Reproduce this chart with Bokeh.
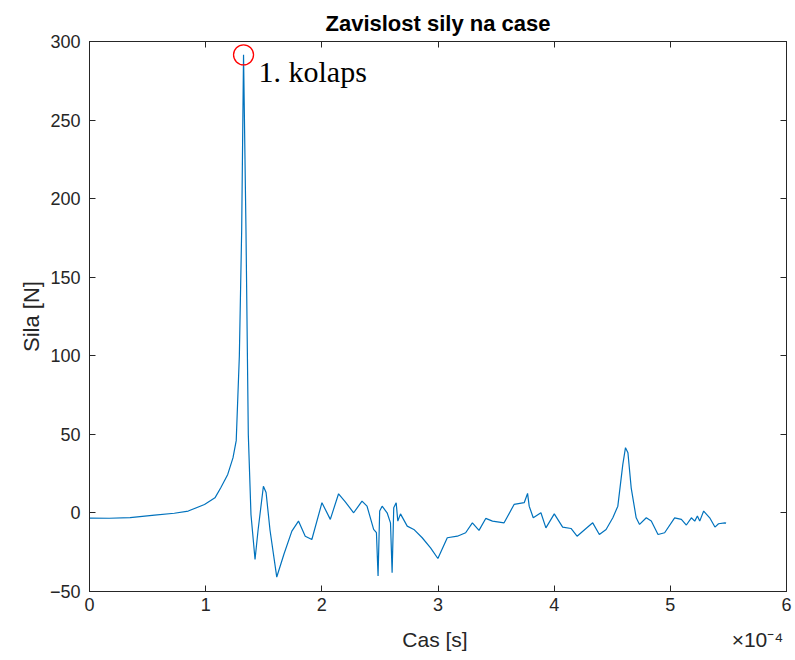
from bokeh.plotting import figure
from bokeh.models import Range1d, FixedTicker, LinearAxis, Label, ColumnDataSource
from bokeh.embed import file_html
from bokeh.resources import INLINE

# time in units of 1e-4 s
time_e4 = [0.000, 0.17, 0.35, 0.56, 0.73, 0.85, 0.99, 1.08, 1.13, 1.19, 1.235, 1.263,
           1.29, 1.31, 1.326, 1.347, 1.367, 1.39, 1.425, 1.451, 1.497, 1.52, 1.554,
           1.612, 1.675, 1.742, 1.799, 1.857, 1.914, 2.001, 2.073, 2.144, 2.202, 2.274,
           2.346, 2.389, 2.446, 2.470, 2.484, 2.498, 2.519, 2.562, 2.591, 2.605, 2.619,
           2.640, 2.654, 2.677, 2.735, 2.792, 2.864, 2.936, 2.999, 3.080, 3.167, 3.238,
           3.296, 3.353, 3.411, 3.469, 3.569, 3.655, 3.742, 3.771, 3.785, 3.820, 3.886,
           3.929, 4.001, 4.073, 4.145, 4.197, 4.289, 4.332, 4.389, 4.447, 4.505, 4.548,
           4.591, 4.614, 4.635, 4.663, 4.706, 4.735, 4.793, 4.836, 4.894, 4.951, 5.037,
           5.095, 5.138, 5.181, 5.210, 5.233, 5.253, 5.287, 5.339, 5.384, 5.415, 5.469, 5.48]
force_n = [-3.3, -3.4, -3.0, -1.4, -0.2, 1.2, 5.4, 9.6, 16, 24.5, 35, 46,
           100, 180, 291.5, 180, 50, -1, -29.6, -11, 17, 13, -11,
           -40.8, -26, -11.6, -5.2, -14.8, -16.9, 6.5, -4.1, 12.2, 7, 0.1,
           7.5, 4.3, -10.5, -12.6, -40.2, 1.2, 4.3, 0.1, -6.3, -38.1, 3.3,
           6.5, -5.2, -0.6, -8.4, -10.5, -15.8, -22.2, -29.0, -15.8, -14.8, -12.6,
           -6.3, -11.1, -3.5, -5.2, -6.3, 5.4, 6.5, 12.4, 4.3, -3.1, 0.1,
           -9.5, -0.6, -9.0, -9.9, -14.8, -9.0, -6.3, -13.7, -10.5, -3.1, 4.3,
           30.9, 41.5, 38.3, 16, -3.1, -7.3, -3.1, -5.2, -13.7, -12.6, -3.1,
           -4.1, -7.7, -3.1, -5.2, -2.0, -5.2, 1.2, -3.1, -9.0, -6.9, -6.3, -6.5]

x_ticks = [0, 1, 2, 3, 4, 5, 6]
y_ticks = [-50, 0, 50, 100, 150, 200, 250, 300]

title_text = "Zavislost sily na case"
x_label = "Cas [s]"
y_label = "Sila [N]"
note_text = "1. kolaps"
exp_text = "\u00d710\u207b\u2074"

peak_idx = max(range(len(force_n)), key=lambda i: force_n[i])
peak_src = ColumnDataSource(dict(t=[time_e4[peak_idx]], f=[force_n[peak_idx]]))
src = ColumnDataSource(dict(t=time_e4, f=force_n))

AX = "#262626"
SANS = "Liberation Sans"

p = figure(width=795, height=660, x_range=Range1d(0, 6), y_range=Range1d(-50, 300),
           output_backend="svg", toolbar_location=None,
           min_border_left=89, min_border_right=9, min_border_top=41, min_border_bottom=69)
p.background_fill_color = "white"
p.border_fill_color = "white"
p.outline_line_color = AX
p.outline_line_width = 1
p.xgrid.visible = False
p.ygrid.visible = False

p.title.text = title_text
p.title.align = "center"
p.title.text_font = SANS
p.title.text_font_size = "22px"
p.title.text_font_style = "bold"
p.title.text_color = "#000000"
p.title.standoff = 11

for ax in (p.xaxis[0], p.yaxis[0]):
    ax.major_tick_in = 6
    ax.major_tick_out = 0
    ax.minor_tick_in = 0
    ax.minor_tick_out = 0
    ax.axis_line_color = AX
    ax.major_tick_line_color = AX
    ax.major_label_text_font = SANS
    ax.major_label_text_font_size = "18px"
    ax.major_label_text_color = AX
    ax.axis_label_text_font = SANS
    ax.axis_label_text_font_size = "22px"
    ax.axis_label_text_font_style = "normal"
    ax.axis_label_text_color = AX

p.xaxis[0].ticker = FixedTicker(ticks=x_ticks)
p.yaxis[0].ticker = FixedTicker(ticks=y_ticks)
p.yaxis[0].axis_label = y_label
p.xaxis[0].major_label_standoff = 6
p.yaxis[0].major_label_standoff = 9
p.yaxis[0].axis_label_standoff = 3

# top and right box ticks (MATLAB style box)
for ticks, loc in ((x_ticks, "above"), (y_ticks, "right")):
    a = LinearAxis(ticker=FixedTicker(ticks=ticks), major_tick_in=6, major_tick_out=0,
                   minor_tick_in=0, minor_tick_out=0, major_label_text_font_size="0px",
                   major_label_standoff=0, axis_line_color=AX, major_tick_line_color=AX,
                   major_label_overrides={t: "" for t in ticks})
    p.add_layout(a, loc)

# x-axis title row: axis title and the exponent marker sit on one line
label_pos = [2.974, 5.75]
label_axis = LinearAxis(ticker=FixedTicker(ticks=label_pos),
                        major_label_overrides={label_pos[0]: x_label, label_pos[1]: exp_text},
                        major_tick_in=0, major_tick_out=0, minor_tick_in=0, minor_tick_out=0,
                        axis_line_color=None, major_label_standoff=14,
                        major_label_text_font=SANS, major_label_text_font_size="21px",
                        major_label_text_color=AX)
p.add_layout(label_axis, "below")

p.line("t", "f", source=src, line_color="#0072BD", line_width=1.2)
p.scatter("t", "f", source=peak_src, marker="circle", size=20, fill_color=None,
          line_color="#FF0000", line_width=1.3)

p.add_layout(Label(x=1.455, y=281, text=note_text, text_font="Liberation Serif",
                   text_font_size="30px", text_color="#000000", text_baseline="alphabetic",
                   text_align="left"))

open("out.html", "w").write(file_html(p, INLINE))
